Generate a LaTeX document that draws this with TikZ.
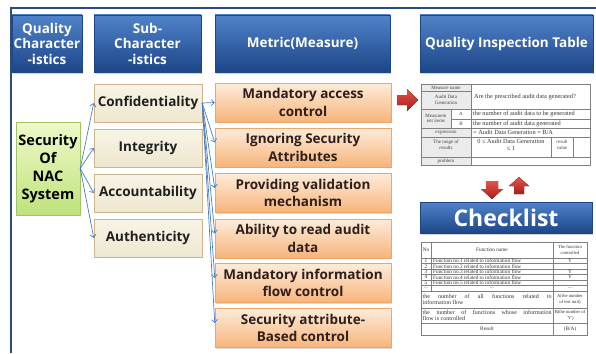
\documentclass[tikz,border=0pt]{standalone}
\usepackage{fontspec}
\setmainfont{Open Sans}
\newfontfamily\tblfont{Liberation Serif}
\usepackage{tikz}
\usetikzlibrary{arrows.meta,shadows}

\begin{document}
\begin{tikzpicture}[x=1pt,y=-1pt,
  hdr/.style={rectangle,top color=hdrtop,bottom color=hdrbot,draw=hdrbot,line width=0.4pt,
    text=white,align=center,inner sep=0pt,font=\bfseries\fontsize{13.5}{15.5}\selectfont,
    drop shadow={shadow xshift=1.2pt,shadow yshift=-1.5pt,opacity=0.35}},
  qbox/.style={rectangle,top color=qtop,bottom color=qbot,draw=qline,line width=0.5pt,
    align=center,inner sep=0pt,font=\bfseries\fontsize{14.5}{18}\selectfont,
    minimum width=64,minimum height=93,
    drop shadow={shadow xshift=1pt,shadow yshift=-1.2pt,opacity=0.3}},
  subbox/.style={rectangle,top color=subtop,bottom color=subbot,draw=subline,line width=0.5pt,
    align=center,inner sep=0pt,font=\bfseries\fontsize{13.5}{16}\selectfont,text=black!88,
    minimum width=108,minimum height=38,
    drop shadow={shadow xshift=1pt,shadow yshift=-1.2pt,opacity=0.3}},
  metbox/.style={rectangle,top color=mtop,bottom color=mbot,draw=mline,line width=0.5pt,
    align=center,inner sep=0pt,font=\bfseries\fontsize{13.5}{17.5}\selectfont,text=mtext,
    minimum width=176,minimum height=39,
    drop shadow={shadow xshift=1pt,shadow yshift=-1.2pt,opacity=0.3}},
  link/.style={draw=linkblue,line width=0.7pt,-{Straight Barb[length=3pt,width=6pt]}},
  redarr/.style={top color=rtop,bottom color=rbot},
  grid/.style={draw=black!50,line width=0.3pt},
  cell/.style={inner sep=0pt,align=center,text=black!75,font=\tblfont\fontsize{5}{5.6}\selectfont},
  wcell/.style={inner sep=0pt,anchor=west,text=black!80,font=\tblfont\fontsize{6.3}{7}\selectfont},
  ccell/.style={inner sep=0pt,align=center,text=black!80,font=\tblfont\fontsize{5.3}{5.8}\selectfont},
  scell/.style={ccell,font=\tblfont\fontsize{4.6}{5.6}\selectfont},
  jcell/.style={ccell,anchor=west,text width=129,align=justify,font=\tblfont\fontsize{6}{6.8}\selectfont}]
\definecolor{hdrtop}{RGB}{80,130,200}
\definecolor{hdrbot}{RGB}{28,70,136}
\definecolor{qtop}{RGB}{238,249,202}
\definecolor{qbot}{RGB}{192,226,122}
\definecolor{qline}{RGB}{160,196,96}
\definecolor{subtop}{RGB}{248,244,230}
\definecolor{subbot}{RGB}{238,231,208}
\definecolor{subline}{RGB}{204,180,140}
\definecolor{mtop}{RGB}{253,236,218}
\definecolor{mbot}{RGB}{247,180,122}
\definecolor{mline}{RGB}{238,166,104}
\definecolor{mtext}{RGB}{46,30,28}
\definecolor{linkblue}{RGB}{74,126,190}
\definecolor{rtop}{RGB}{228,84,74}
\definecolor{rbot}{RGB}{166,30,26}
\definecolor{frame}{RGB}{44,76,124}
\useasboundingbox (0,0) rectangle (596,353);
% frame
\draw[frame,line width=2.4pt] (11,353) -- (11,8) -- (596,8);
% column heads
\node[hdr,minimum width=70,minimum height=57] (qhead) at (47,43.5) {Quality\\Character\\-istics};
\node[hdr,minimum width=107,minimum height=57] (shead) at (147.5,43.5) {Sub-\\Character\\-istics};
\node[hdr,minimum width=175,minimum height=57] (mhead) at (302.5,43.5) {Metric(Measure)};
\node[hdr,minimum width=173,minimum height=57] (thead) at (506.5,43.5) {Quality Inspection Table};
% characteristic and sub-characteristics
\node[qbox] (sec) at (48,168.5) {Security\\Of\\NAC\\System};
\node[subbox] (conf) at (148,103) {Confidentiality};
\node[subbox] (integ) at (148,148) {Integrity};
\node[subbox] (acc) at (148,193) {Accountability};
\node[subbox] (auth) at (148,238) {Authenticity};
% metrics
\node[metbox] (m1) at (303,102.5) {Mandatory access\\control};
\node[metbox] (m2) at (303,147.5) {Ignoring Security\\Attributes};
\node[metbox] (m3) at (303,193) {Providing validation\\mechanism};
\node[metbox] (m4) at (303,238.5) {Ability to read audit\\data};
\node[metbox] (m5) at (303,283) {Mandatory information\\flow control};
\node[metbox] (m6) at (303,328) {Security attribute-\\Based control};
% links
\draw[link] (sec.east) -- (conf.west);
\draw[link] (sec.east) -- (integ.west);
\draw[link] (sec.east) -- (acc.west);
\draw[link] (sec.east) -- (auth.west);
\draw[link] (conf.east) -- (m1.west);
\draw[link] (conf.east) -- ([yshift=5pt]m2.west);
\draw[link] (conf.east) -- ([yshift=5pt]m3.west);
\draw[link] (conf.east) -- ([yshift=5pt]m4.west);
\draw[link] (conf.east) -- ([yshift=5pt]m5.west);
\draw[link] (conf.east) -- ([yshift=5pt]m6.west);
% block arrows
\fill[redarr] (397,95) -- (407,95) -- (407,89) -- (418,100) -- (407,111) -- (407,105) -- (397,105) -- cycle;
\fill[redarr] (486,181) -- (498,181) -- (498,189) -- (503,189) -- (492,199) -- (481,189) -- (486,189) -- cycle;
\fill[redarr] (514,194) -- (524,194) -- (524,186) -- (529,186) -- (519,177) -- (509,186) -- (514,186) -- cycle;
% inspection table
\fill[black!8] (421,84) rectangle (471,109);
\fill[black!8] (421,109) rectangle (451,128);
\fill[black!8] (421,128) rectangle (471,165);
\draw[grid] (421,84) rectangle (590,165);
\draw[grid] (421,91) -- (471,91);
\draw[grid] (421,109) -- (590,109);
\draw[grid] (451,119) -- (590,119);
\draw[grid] (421,128) -- (590,128);
\draw[grid] (421,137) -- (590,137);
\draw[grid] (421,157) -- (590,157);
\draw[grid] (471,84) -- (471,165);
\draw[grid] (451,109) -- (451,128);
\draw[grid] (551,137) -- (551,157);
\draw[grid] (573,137) -- (573,157);
\node[cell] (tname) at (446,87.5) {Measure name};
\node[cell] (tmeas) at (446,100) {Audit Data\\Generation};
\node[wcell] (tques) at (474,97) {Are the prescribed audit data generated?};
\node[cell] (titem) at (436,118.5) {Measurem\\ent items};
\node[cell] (ta) at (461,114) {A};
\node[cell] (tb) at (461,123.5) {B};
\node[wcell] (tadef) at (473,114) {the number of audit data to be generated};
\node[wcell] (tbdef) at (473,123.5) {the number of audit data generated};
\node[cell] (texpr) at (446,132.5) {expression};
\node[wcell] (tform) at (473,132.5) {= Audit Data Generation = B/A};
\node[cell] (trange) at (446,145) {The range of\\results};
\node[ccell,font=\tblfont\fontsize{6.3}{7.5}\selectfont] (tbound) at (511,145) {0 ≤ Audit Data Generation\\≤ 1};
\node[cell] (tres) at (562,145) {result\\value};
\node[cell] (tprob) at (446,161) {problem};
% checklist
\node[hdr,minimum width=172,minimum height=31,font=\bfseries\fontsize{23}{26}\selectfont] (chead) at (506,217.5) {Checklist};
\draw[grid] (421,242) rectangle (587,335);
\draw[grid] (431,242) -- (431,291);
\draw[grid] (553,242) -- (553,335);
\draw[grid] (421,258) -- (587,258);
\draw[grid] (421,263.5) -- (587,263.5);
\draw[grid] (421,269) -- (587,269);
\draw[grid] (421,274.5) -- (587,274.5);
\draw[grid] (421,280) -- (587,280);
\draw[grid] (421,285.5) -- (587,285.5);
\draw[grid] (421,291) -- (587,291);
\draw[grid] (421,308) -- (587,308);
\draw[grid] (421,323) -- (587,323);
\node[ccell] (cno) at (426,250) {No};
\node[ccell] (cfn) at (492,250) {Function name};
\node[scell] (cctl) at (570,250) {The function\\controlled};
\node[ccell] (cn1) at (426,260.75) {1};
\node[ccell,anchor=west] (cf1) at (433,260.75) {Function no.1 related to information flow};
\node[ccell] (cy1) at (570,260.75) {Y};
\node[ccell] (cn2) at (426,266.25) {2};
\node[ccell,anchor=west] (cf2) at (433,266.25) {Function no.2 related to information flow};
\node[ccell] (cn3) at (426,271.75) {3};
\node[ccell,anchor=west] (cf3) at (433,271.75) {Function no.3 related to information flow};
\node[ccell] (cy3) at (570,271.75) {Y};
\node[ccell] (cn4) at (426,277.25) {4};
\node[ccell,anchor=west] (cf4) at (433,277.25) {Function no.4 related to information flow};
\node[ccell] (cy4) at (570,277.25) {Y};
\node[ccell] (cn5) at (426,282.75) {5};
\node[ccell,anchor=west] (cf5) at (433,282.75) {Function no.5 related to information flow};
\node[ccell] (cndots) at (426,288.25) {...};
\node[ccell] (cfdots) at (492,288.25) {...};
\node[ccell] (cydots) at (570,288.25) {...};
\node[jcell] (call) at (422.5,299.5) {the number of all functions related to\linebreak information flow};
\node[scell] (ccnt) at (570,299.5) {A(the number\\of test unit)};
\node[jcell] (cctrl) at (422.5,315.5) {the number of functions whose information\linebreak flow is controlled};
\node[scell] (cyes) at (570,315.5) {B(the number of\\`Y')};
\node[ccell] (cresult) at (487,329) {Result};
\node[ccell] (cratio) at (570,329) {(B/A)};
\end{tikzpicture}
\end{document}
